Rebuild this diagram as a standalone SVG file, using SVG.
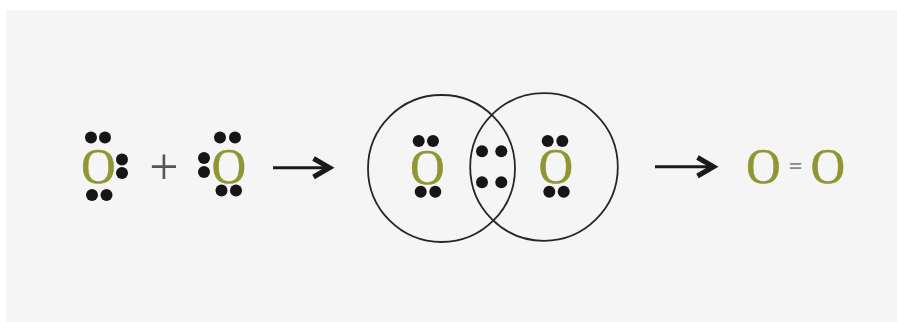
<svg xmlns="http://www.w3.org/2000/svg" width="897" height="322" viewBox="0 0 897 322">
<style>
.o{font-family:"Liberation Serif",serif;font-size:50px;fill:#8f9632;stroke:#8f9632;stroke-width:.6;text-anchor:middle}
.s{font-family:"Liberation Serif",serif;fill:#555;text-anchor:middle}
.e{fill:#161616}
.ring{fill:none;stroke:#262626;stroke-width:1.8}
.shaft{fill:none;stroke:#1a1a1a;stroke-width:3}
.head{fill:none;stroke:#1a1a1a;stroke-width:5}
</style>
<defs><circle id="d" r="6" class="e"/></defs>
<rect width="897" height="322" fill="#fff"/>
<rect x="6" y="10" width="891" height="312" fill="#f5f5f5"/>
<g id="atom-left">
<text class="o" transform="translate(98.500 183) scale(.95 1)">O</text>
<use href="#d" x="91" y="137.500"/><use href="#d" x="105" y="137.500"/>
<use href="#d" x="92" y="195"/><use href="#d" x="106.500" y="195"/>
<use href="#d" x="122" y="159.500"/><use href="#d" x="122" y="173"/>
</g>
<g id="plus"><text class="s" x="164" y="184" font-size="52">+</text></g>
<g id="atom-right">
<text class="o" transform="translate(229 183) scale(.95 1)">O</text>
<use href="#d" x="220" y="137.500"/><use href="#d" x="235" y="137.500"/>
<use href="#d" x="221.500" y="190.500"/><use href="#d" x="236" y="190.500"/>
<use href="#d" x="204" y="158"/><use href="#d" x="204" y="172"/>
</g>
<g id="molecule">
<circle class="ring" cx="441.500" cy="168.500" r="73.500"/>
<circle class="ring" cx="544" cy="167" r="73.800"/>
<text class="o" transform="translate(427.300 183.500) scale(.95 1)">O</text>
<text class="o" transform="translate(556 183) scale(.95 1)">O</text>
<use href="#d" x="418.700" y="141"/><use href="#d" x="433" y="141"/>
<use href="#d" x="420.700" y="191.700"/><use href="#d" x="435.300" y="191.700"/>
<use href="#d" x="547.700" y="141"/><use href="#d" x="562.300" y="141"/>
<use href="#d" x="549.300" y="191.700"/><use href="#d" x="563.700" y="191.700"/>
<use href="#d" x="482" y="151.300"/><use href="#d" x="501.300" y="151.300"/>
<use href="#d" x="482" y="182.300"/><use href="#d" x="501.300" y="182.300"/>
</g>
<g id="product">
<text class="o" transform="translate(763.300 183) scale(.95 1)">O</text>
<text class="o" transform="translate(828 183) scale(.95 1)">O</text>
<text x="795.500" y="174" font-family="Liberation Serif, serif" font-size="24" font-weight="700" fill="#8a8a8a" text-anchor="middle">=</text>
</g>
<g id="connectors">
<path class="shaft" d="M273 167.700H328"/>
<path class="head" d="M313.500 158.500L329.500 167.700L313.500 177"/>
<path class="shaft" d="M655 166.700H712"/>
<path class="head" d="M697.500 157.500L713.500 166.700L697.500 176"/>
</g>
</svg>
